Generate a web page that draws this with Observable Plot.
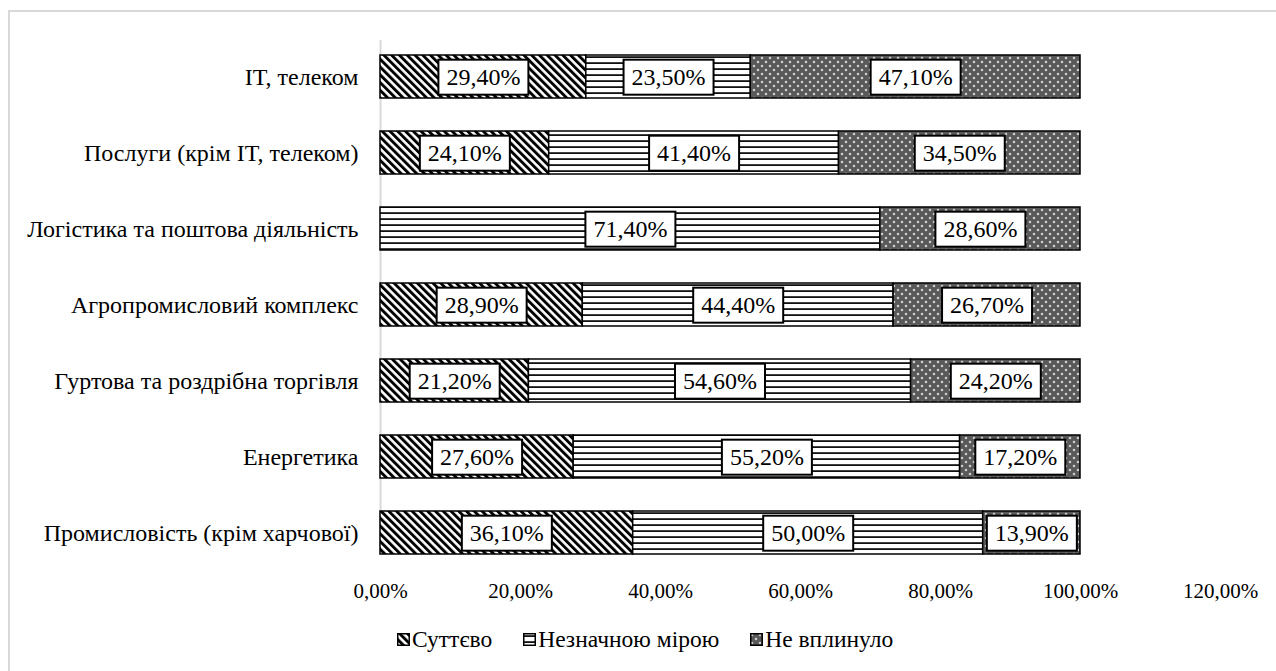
<!DOCTYPE html>
<html>
<head>
<meta charset="utf-8">
<script src="https://cdn.jsdelivr.net/npm/d3@7"></script>
<script src="https://cdn.jsdelivr.net/npm/@observablehq/plot@0.6"></script>
<style>
  html, body { margin: 0; padding: 0; background: #fff; }
  #frame { position: absolute; left: 8px; top: 10px; width: 1400px; height: 800px;
           border-left: 2px solid #d9d9d9; border-top: 2px solid #d9d9d9; }
  #chart { position: absolute; left: 0; top: 0; }
  #legend { position: absolute; left: 397px; top: 626px; display: flex; gap: 31px; color: #000; }
  #legend .item { display: flex; align-items: center; gap: 2px; }
  #legend svg { display: block; }
</style>
</head>
<body style="width:1276px;height:671px;overflow:hidden;position:relative;font-family:'Liberation Serif', 'Times New Roman', serif;">
<svg width="0" height="0" style="position:absolute">
  <defs>
    <pattern id="pDiag" width="5.5" height="5.5" patternUnits="userSpaceOnUse" patternTransform="rotate(-45)">
      <rect width="5.5" height="5.5" fill="#fff"></rect>
      <rect width="2.9" height="5.5" fill="#000"></rect>
    </pattern>
    <pattern id="pHoriz" width="6" height="6" patternUnits="userSpaceOnUse">
      <rect width="6" height="6" fill="#fff"></rect>
      <rect y="2.2" width="6" height="1.8" fill="#111"></rect>
    </pattern>
    <pattern id="pDots" width="8" height="8" patternUnits="userSpaceOnUse">
      <rect width="8" height="8" fill="#595959"></rect>
      <path d="M2 0.8v2.4M0.8 2h2.4M6 4.8v2.4M4.8 6h2.4" stroke="#fff" stroke-width="0.9" fill="none"></path>
    </pattern>
  </defs>
</svg>
<div id="frame"></div>
<div id="chart"></div>
<div id="legend" style="font-family:'Liberation Serif', 'Times New Roman', serif;font-size:23.5px;"></div>
<script>
const categories = [
  "IT, телеком",
  "Послуги (крім IT, телеком)",
  "Логістика та поштова діяльність",
  "Агропромисловий комплекс",
  "Гуртова та роздрібна торгівля",
  "Енергетика",
  "Промисловість (крім харчової)"
];
const seriesNames = ["Суттєво", "Незначною мірою", "Не вплинуло"];
const sutevo      = [29.4, 24.1, 0,    28.9, 21.2, 27.6, 36.1];
const neznachno   = [23.5, 41.4, 71.4, 44.4, 54.6, 55.2, 50.0];
const nevplynulo  = [47.1, 34.5, 28.6, 26.7, 24.2, 17.2, 13.9];
const xTicks = [0, 20, 40, 60, 80, 100, 120];
const patterns = ["url(#pDiag)", "url(#pHoriz)", "url(#pDots)"];

const FONT = "'Liberation Serif', 'Times New Roman', serif";

const seriesValues = [sutevo, neznachno, nevplynulo];
const data = [];
categories.forEach((c, i) => {
  seriesNames.forEach((s, j) => {
    data.push({cat: c, series: s, value: seriesValues[j][i], pat: patterns[j]});
  });
});
const shown = data.filter(d => d.value > 0);
const fmtPct = v => v.toFixed(2).replace(".", ",") + "%";

const plot = Plot.plot({
  width: 1276,
  height: 611,
  marginLeft: 380,
  marginRight: 56,
  marginTop: 39,
  marginBottom: 40,
  style: {fontFamily: FONT, background: "transparent", color: "#000"},
  x: {domain: [0, 120], ticks: xTicks, tickFormat: fmtPct, label: null},
  y: {domain: categories, paddingInner: 0.43, paddingOuter: 0.215, label: null},
  color: {type: "identity"},
  marks: [
    Plot.ruleX([0], {stroke: "#d9d9d9", strokeWidth: 2, insetTop: 1, insetBottom: 18}),
    Plot.barX(shown, Plot.stackX({x: "value", y: "cat", z: "series", fill: "pat", stroke: "#000", strokeWidth: 1.5})),
    Plot.text(shown, Plot.stackX({x: "value", y: "cat", z: "series", text: d => fmtPct(d.value), fontSize: 24, fill: "#000"})),
    Plot.axisX({ticks: xTicks, tickFormat: fmtPct, tickSize: 0, tickPadding: 12, fontSize: 21, label: null}),
    Plot.axisY({tickSize: 0, tickPadding: 22, fontSize: 24, label: null})
  ]
});
plot.style.fontFamily = FONT;
document.getElementById("chart").appendChild(plot);

// white boxes behind the data labels
plot.querySelectorAll('g[aria-label="text"] text').forEach(t => {
  const b = t.getBBox();
  const padX = 8, boxH = 35;
  const cy = b.y + b.height / 2 + 0.5;
  const r = document.createElementNS("http://www.w3.org/2000/svg", "rect");
  r.setAttribute("x", b.x - padX);
  r.setAttribute("y", cy - boxH / 2);
  r.setAttribute("width", b.width + 2 * padX);
  r.setAttribute("height", boxH);
  r.setAttribute("fill", "#fff");
  r.setAttribute("stroke", "#000");
  r.setAttribute("stroke-width", "2");
  const tr = t.getAttribute("transform");
  if (tr) r.setAttribute("transform", tr);
  t.parentNode.insertBefore(r, t);
});

// legend
const legend = document.getElementById("legend");
seriesNames.forEach((s, j) => {
  const item = document.createElement("div");
  item.className = "item";
  item.innerHTML = `<svg width="13" height="13"><rect x="0.75" y="0.75" width="11.5" height="11.5" fill="${patterns[j]}" stroke="#000" stroke-width="1.5"></rect></svg><span>${s}</span>`;
  legend.appendChild(item);
});
</script>
</body>
</html>
